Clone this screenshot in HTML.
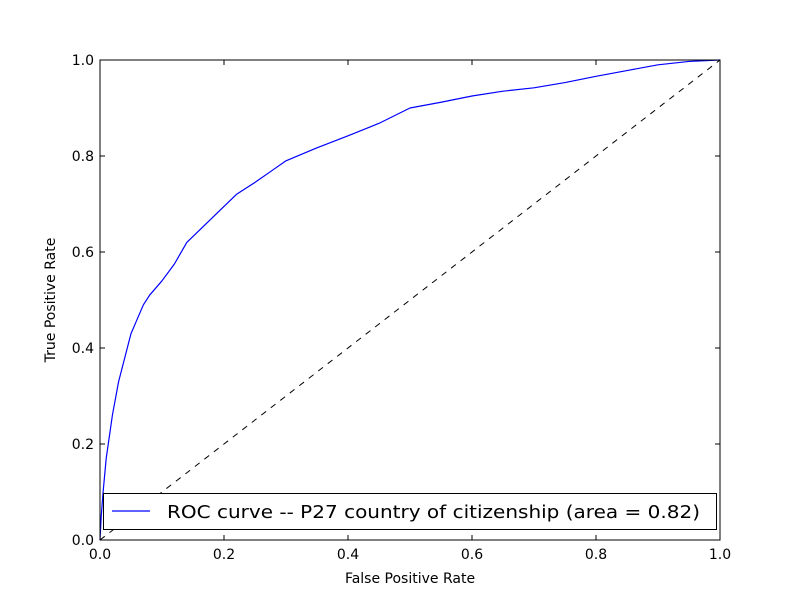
<!DOCTYPE html>
<html><head><meta charset="utf-8"><style>
body{margin:0;background:#fff;width:800px;height:600px;overflow:hidden}
svg text{font-family:"DejaVu Sans","Liberation Sans",sans-serif;fill:#000}
</style></head><body>
<svg id="chart" width="800" height="600">
<rect x="0" y="0" width="800" height="600" fill="#fff"/>
<g id="g"></g>
</svg>
<script>
const fpr=[0,0.002,0.005,0.01,0.02,0.03,0.04,0.05,0.06,0.07,0.08,0.1,0.12,0.14,0.16,0.18,0.2,0.22,0.25,0.28,0.3,0.35,0.4,0.45,0.5,0.55,0.6,0.65,0.7,0.75,0.8,0.85,0.9,0.95,1];
const tpr=[0,0.05,0.1,0.17,0.26,0.33,0.38,0.43,0.46,0.49,0.51,0.54,0.575,0.62,0.645,0.67,0.695,0.72,0.745,0.772,0.79,0.817,0.842,0.868,0.9,0.912,0.925,0.935,0.942,0.953,0.966,0.978,0.99,0.997,1];
const xTicks=["0.0","0.2","0.4","0.6","0.8","1.0"];
const yTicks=["0.0","0.2","0.4","0.6","0.8","1.0"];
const L=100,R=720,T=60,B=540;
const sx=v=>L+v*(R-L), sy=v=>B-v*(B-T);
const NS="http://www.w3.org/2000/svg", g=document.getElementById('g');
function mk(t,a,txt){const e=document.createElementNS(NS,t);for(const k in a)e.setAttribute(k,a[k]);if(txt!=null)e.textContent=txt;g.appendChild(e);return e;}
let e;
e=mk('line',{x1:sx(0),y1:sy(0),x2:sx(1),y2:sy(1),stroke:'#000','stroke-dasharray':'6,6','stroke-width':1});


e=mk('polyline',{points:fpr.map((v,i)=>sx(v)+','+sy(tpr[i])).join(' '),fill:'none',stroke:'#0000ff','stroke-width':1.2,'stroke-linejoin':'round'});


e=mk('rect',{x:L,y:T,width:R-L,height:B-T,fill:'none',stroke:'#000','stroke-width':1});


xTicks.forEach(t=>{const x=sx(+t);
 e=mk('line',{x1:x,y1:B,x2:x,y2:B-5,stroke:'#000'});
 
 
 e=mk('line',{x1:x,y1:T,x2:x,y2:T+5,stroke:'#000'});
 
 
 e=mk('text',{x:x,y:B+19,'text-anchor':'middle','font-size':14},t);
 
 
});
yTicks.forEach(t=>{const y=sy(+t);
 e=mk('line',{x1:L,y1:y,x2:L+5,y2:y,stroke:'#000'});
 
 
 e=mk('line',{x1:R,y1:y,x2:R-5,y2:y,stroke:'#000'});
 
 
 e=mk('text',{x:L-6,y:y+5,'text-anchor':'end','font-size':14},t);
 
 
});
e=mk('text',{x:410,y:583,'text-anchor':'middle','font-size':14},'False Positive Rate');


e=mk('text',{x:55,y:300,'text-anchor':'middle','font-size':14,transform:'rotate(-90 55 300)'},'True Positive Rate');


e=mk('rect',{x:103.5,y:493.5,width:613,height:36,fill:'#fff',stroke:'#000'});


e=mk('line',{x1:112,y1:511,x2:150,y2:511,stroke:'#0000ff','stroke-width':1.2});


e=mk('text',{x:167,y:518,'font-size':17.5,textLength:533,lengthAdjust:'spacingAndGlyphs'},'ROC curve -- P27 country of citizenship (area = 0.82)');


</script>
</body></html>
